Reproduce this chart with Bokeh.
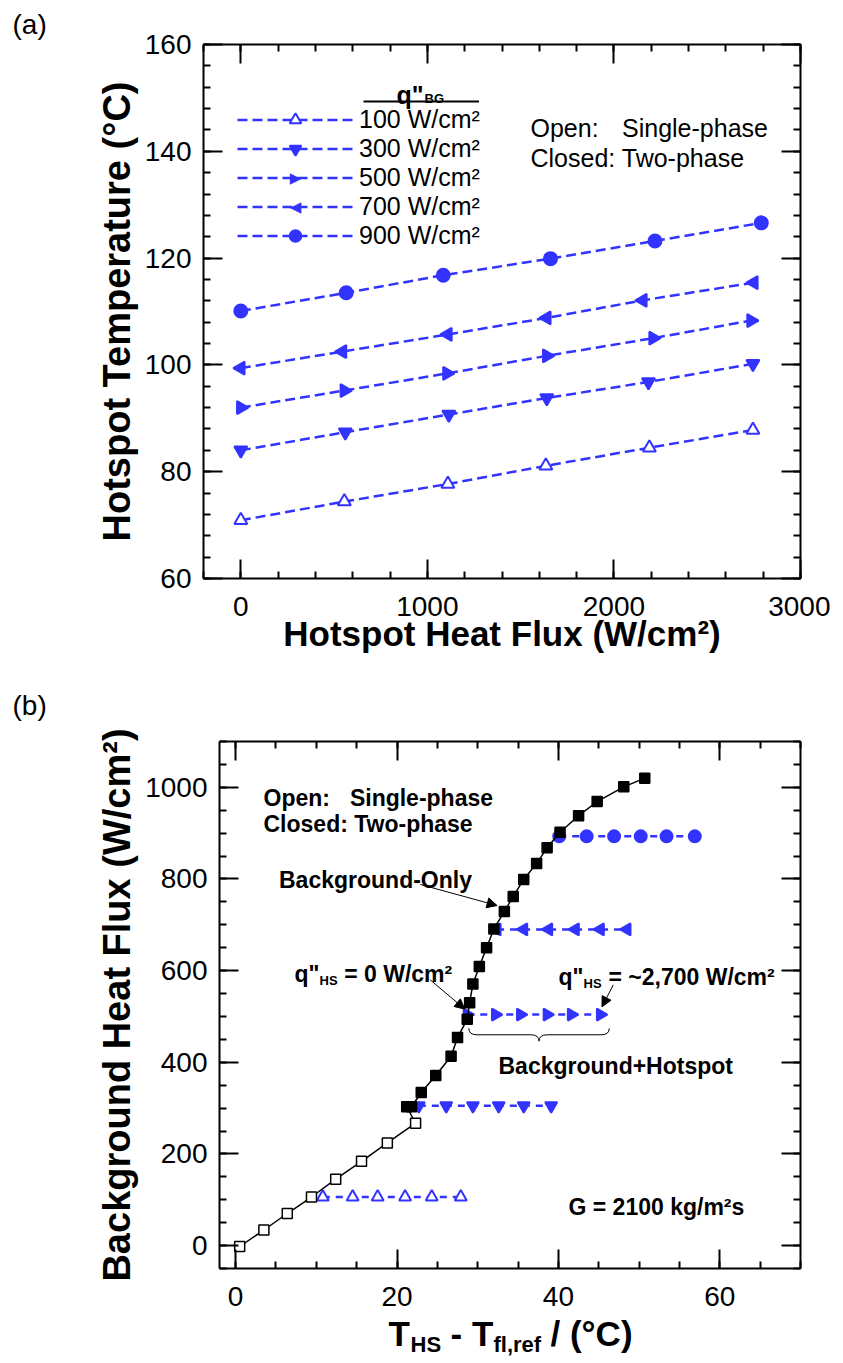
import numpy as np
from bokeh.plotting import figure
from bokeh.models import (Range1d, LinearAxis, FixedTicker, Label, Legend, LegendItem,
                          Arrow, NormalHead, BoxAnnotation, CustomJSTickFormatter)
from bokeh.layouts import column
from bokeh.embed import file_html
from bokeh.resources import INLINE

FONT = "Liberation Sans"
BLUE = "#3333ff"

# ---------------- data: panel (a) ----------------
qbg_labels = ["100 W/cm²", "300 W/cm²", "500 W/cm²", "700 W/cm²", "900 W/cm²"]
a_x_100 = [0, 555, 1110, 1635, 2190, 2745]
a_y_100 = [70.9, 74.4, 77.7, 81.1, 84.5, 87.8]
a_x_300 = [0, 560, 1115, 1640, 2185, 2745]
a_y_300 = [84.0, 87.4, 90.7, 93.8, 96.8, 100.2]
a_x_500 = [0, 555, 1105, 1640, 2210, 2735]
a_y_500 = [92.0, 95.2, 98.4, 101.7, 105.0, 108.3]
a_x_700 = [0, 545, 1110, 1640, 2155, 2750]
a_y_700 = [99.4, 102.5, 105.7, 108.8, 112.1, 115.4]
a_x_900 = [0, 565, 1085, 1660, 2220, 2790]
a_y_900 = [110.1, 113.5, 116.8, 119.9, 123.2, 126.6]

a_xticks = [0, 1000, 2000, 3000]
a_yticks = [60, 80, 100, 120, 140, 160]

# ---------------- data: panel (b) ----------------
bg_x_open = [0.5, 3.5, 6.4, 9.4, 12.4, 15.6, 18.8, 22.3]
bg_y_open = [-2, 34, 70, 106, 145, 184, 224, 267]
bg_x_closed = [21.2, 21.8, 23.0, 24.8, 26.7, 27.5, 28.7, 29.0, 29.4, 30.2, 31.1, 32.0,
               33.3, 34.4, 35.7, 37.3, 38.6, 40.2, 42.5, 44.8, 48.1, 50.7]
bg_y_closed = [303, 303, 334, 371, 413, 454, 494, 530, 571, 609, 650, 691,
               729, 762, 799, 834, 868, 902, 938, 969, 1001, 1020]

b_x_100 = [10.8, 14.5, 17.6, 21.0, 24.3, 27.9]
b_y_100 = [106, 106, 106, 106, 106, 106]
b_x_300 = [22.7, 26.1, 29.4, 32.6, 35.7, 39.1]
b_y_300 = [305, 305, 305, 305, 305, 305]
b_x_500 = [28.7, 32.2, 35.3, 38.6, 41.6, 45.2]
b_y_500 = [504, 504, 504, 504, 504, 504]
b_x_700 = [32.4, 35.7, 38.8, 42.1, 45.2, 48.5]
b_y_700 = [690, 690, 690, 690, 690, 690]
b_x_900 = [40.1, 43.5, 46.9, 50.2, 53.4, 56.9]
b_y_900 = [893, 893, 893, 893, 893, 893]

b_xticks = [0, 20, 40, 60]
b_yticks = [0, 200, 400, 600, 800, 1000]

# marker styles per series: (marker, angle, fill, legend-glyph override)
styles = [("triangle", 0.0, "white", None),
          ("inverted_triangle", 0.0, BLUE, None),
          ("triangle", -np.pi / 2, BLUE, "▶"),
          ("triangle", np.pi / 2, BLUE, "◀"),
          ("circle", 0.0, BLUE, None)]

# frame placement on the page (px)
FA_L, FA_T, FA_W, FA_H = 203, 44, 597, 534
FB_L, FB_T, FB_W, FB_H = 219, 741, 581, 527
RIGHT = 30
A_BOTTOM = 100
A_HEIGHT = FA_T + FA_H + A_BOTTOM          # 678
S_H = 44                                    # strip holding "(b)"
S_B = A_HEIGHT + S_H                        # 722
B_TOP_BORDER = FB_T - S_B                   # 19
B_BOTTOM = 50
OVERLAP = 14                                # title strip slides up under the tick labels
T_TOP = FB_T + FB_H + B_BOTTOM - OVERLAP    # 1304
T_H = 57
TOTAL_W = FA_L + FA_W + RIGHT


def style_axis(ax, ticks, minor, show=True, standoff=12):
    ax.ticker = FixedTicker(ticks=ticks, minor_ticks=minor)
    ax.axis_line_width = 2
    ax.axis_line_color = "black"
    ax.major_tick_in = 19
    ax.major_tick_out = 0
    ax.minor_tick_in = 7
    ax.minor_tick_out = 0
    ax.major_tick_line_width = 2
    ax.minor_tick_line_width = 2
    ax.major_tick_line_color = "black"
    ax.minor_tick_line_color = "black"
    ax.major_label_text_font = FONT
    ax.major_label_text_font_size = "28px"
    ax.major_label_text_color = "black"
    ax.major_label_standoff = standoff
    ax.axis_label_text_font = FONT
    ax.axis_label_text_font_style = "bold"
    ax.axis_label_text_color = "black"
    if not show:
        ax.formatter = CustomJSTickFormatter(code="return ''")
        ax.major_label_standoff = 0
        ax.major_label_text_font_size = "1px"


def make_fig(xr, yr, left, top, fw, fh, bottom, right=RIGHT):
    p = figure(frame_width=fw, frame_height=fh, x_range=Range1d(*xr), y_range=Range1d(*yr),
               output_backend="svg", toolbar_location=None, frame_align=False,
               min_border_left=left, min_border_top=top, min_border_right=right,
               min_border_bottom=bottom)
    p.xgrid.visible = False
    p.ygrid.visible = False
    p.outline_line_color = None
    p.background_fill_color = "white"
    p.border_fill_color = "white"
    return p


def strip(height, **kw):
    s = figure(frame_width=TOTAL_W, frame_height=height, x_range=Range1d(0, 1), y_range=Range1d(0, 1),
               output_backend="svg", toolbar_location=None, frame_align=False, min_border=0,
               title_location=None, **kw)
    s.axis.visible = False
    s.xgrid.visible = False
    s.ygrid.visible = False
    s.outline_line_color = None
    s.background_fill_alpha = 0
    s.border_fill_alpha = 0
    return s


def add_mirror(p, xt, xm, yt, ym):
    bottom_ax = p.below[0]
    left_ax = p.left[0]
    style_axis(bottom_ax, xt, xm, standoff=18)
    style_axis(left_ax, yt, ym, standoff=12)
    top = LinearAxis()
    style_axis(top, xt, xm, show=False)
    right = LinearAxis()
    style_axis(right, yt, ym, show=False)
    p.add_layout(top, "above")
    p.add_layout(right, "right")
    return bottom_ax, left_ax


def lab(p, fl, fb, px, py, text, size, bold=False, align="left", baseline="alphabetic",
        color="black", font=FONT):
    p.add_layout(Label(x=px - fl, y=fb - py, x_units="screen", y_units="screen", text=text,
                       text_font=font, text_font_size=size,
                       text_font_style="bold" if bold else "normal",
                       text_color=color, text_align=align, text_baseline=baseline))


# ======================= panel (a) =======================
pa = make_fig((-200, 3000), (60, 160), FA_L, FA_T, FA_W, FA_H, A_BOTTOM)
ax_b, ax_l = add_mirror(pa, a_xticks, list(range(-200, 3001, 200)), a_yticks, list(range(60, 161, 4)))
ax_b.axis_label = "Hotspot Heat Flux (W/cm²)"
ax_b.axis_label_text_font_size = "35px"
ax_b.axis_label_standoff = -5
ax_l.axis_label = "Hotspot Temperature (°C)"
ax_l.axis_label_text_font_size = "38px"
ax_l.axis_label_standoff = 4
pa.title.text = "(a)"
pa.title.align = "left"
pa.title.offset = 12 - FA_L
pa.title.text_font = FONT
pa.title.text_font_size = "28px"
pa.title.text_font_style = "normal"
pa.title.text_color = "black"
pa.title.standoff = 10

FA_B = FA_T + FA_H
a_series = [(a_x_100, a_y_100), (a_x_300, a_y_300), (a_x_500, a_y_500),
            (a_x_700, a_y_700), (a_x_900, a_y_900)]
items = []
for (xs, ys), (mk, ang, fill, glyph), lbl in zip(a_series, styles, qbg_labels):
    rl = pa.line(xs, ys, line_color=BLUE, line_width=2.5, line_dash="10 5")
    rs = pa.scatter(xs, ys, marker=mk, angle=ang, size=13, line_color=BLUE,
                    fill_color=fill, line_width=2)
    items.append(LegendItem(label=lbl, renderers=[rl] if glyph else [rl, rs]))

LEG_TOP = 104.5
leg = Legend(items=items, location=(237 - FA_L, FA_B - (LEG_TOP + 145)), glyph_width=116,
             glyph_height=29, label_height=29, label_standoff=6, spacing=0, padding=0, margin=0,
             label_text_font=FONT, label_text_font_size="25px", label_text_color="black",
             background_fill_alpha=0, border_line_color=None)
pa.add_layout(leg)
for i, st in enumerate(styles):
    if st[3]:
        lab(pa, FA_L, FA_B, 295, LEG_TOP + 14.5 + 29 * i, st[3], "15px", align="center",
            baseline="middle", color=BLUE, font="DejaVu Sans")

lab(pa, FA_L, FA_B, 396, 94, "q\"", "25px", bold=True)
lab(pa, FA_L, FA_B, 424, 97.5, "BG", "13px", bold=True)
pa.add_layout(BoxAnnotation(left=363 - FA_L, right=478.5 - FA_L, bottom=FA_B - 102, top=FA_B - 100,
                            left_units="screen", right_units="screen", bottom_units="screen",
                            top_units="screen", fill_color="black", fill_alpha=1, line_color=None))
lab(pa, FA_L, FA_B, 530, 127, "Open:", "25px")
lab(pa, FA_L, FA_B, 621.5, 127, "Single-phase", "25px")
lab(pa, FA_L, FA_B, 530, 157, "Closed: Two-phase", "25px")

# ============ strip holding the "(b)" panel tag ============
ps = strip(S_H)
lab(ps, 0, S_B, 12, 705, "(b)", "28px")

# ======================= panel (b) =======================
pb = make_fig((-2, 70), (-50, 1100), FB_L, B_TOP_BORDER, FB_W, FB_H, B_BOTTOM)
pb.title_location = None
bx_b, bx_l = add_mirror(pb, b_xticks, list(range(0, 71, 5)), b_yticks, list(range(-50, 1101, 50)))
bx_l.axis_label = "Background Heat Flux (W/cm²)"
bx_l.axis_label_text_font_size = "38px"
bx_l.axis_label_standoff = 4

b_series = [(b_x_100, b_y_100), (b_x_300, b_y_300), (b_x_500, b_y_500),
            (b_x_700, b_y_700), (b_x_900, b_y_900)]
for (xs, ys), (mk, ang, fill, _g) in zip(b_series, styles):
    pb.line(xs, ys, line_color=BLUE, line_width=2.5, line_dash="7 6")
    pb.scatter(xs, ys, marker=mk, angle=ang, size=12, line_color=BLUE, fill_color=fill, line_width=2)

pb.line(bg_x_open + bg_x_closed, bg_y_open + bg_y_closed, line_color="black", line_width=1.5)
pb.scatter(bg_x_open, bg_y_open, marker="square", size=10, line_color="black",
           fill_color="white", line_width=1.5)
pb.scatter(bg_x_closed, bg_y_closed, marker="square", size=10, line_color="black",
           fill_color="black", line_width=1.5)

FB_B = FB_T + FB_H
lab(pb, FB_L, FB_B, 263, 797, "Open:", "23px", bold=True)
lab(pb, FB_L, FB_B, 349.4, 797, "Single-phase", "23px", bold=True)
lab(pb, FB_L, FB_B, 263, 823, "Closed: Two-phase", "23px", bold=True)
lab(pb, FB_L, FB_B, 278.5, 879.5, "Background-Only", "23px", bold=True)
lab(pb, FB_L, FB_B, 294, 973.5, "q\"", "23px", bold=True)
lab(pb, FB_L, FB_B, 319, 979.5, "HS", "13px", bold=True)
lab(pb, FB_L, FB_B, 343.7, 973.5, "= 0 W/cm²", "23px", bold=True)
lab(pb, FB_L, FB_B, 558, 976.5, "q\"", "23px", bold=True)
lab(pb, FB_L, FB_B, 583, 983, "HS", "13px", bold=True)
lab(pb, FB_L, FB_B, 608, 976.5, "= ~2,700 W/cm²", "23px", bold=True)
lab(pb, FB_L, FB_B, 498, 1065, "Background+Hotspot", "23px", bold=True)
lab(pb, FB_L, FB_B, 568, 1206, "G = 2100 kg/m²s", "23px", bold=True)

# arrows
for (xs_, ys_, xe_, ye_) in [(22.9, 788, 32.4, 742), (24.1, 580, 28.4, 516), (46.8, 569, 45.4, 521)]:
    pb.add_layout(Arrow(end=NormalHead(size=10, fill_color="black", line_color="black", line_width=1),
                        x_start=xs_, y_start=ys_, x_end=xe_, y_end=ye_,
                        line_color="black", line_width=1))

# curly brace under the 500 W/cm2 row
bx0, bx1, bxc = 28.9, 46.3, 37.6
by_top, by_mid, by_tip = 474, 460, 446
dx = 1.0
pb.quadratic(x0=[bx0, bx1, bxc, bxc], y0=[by_top, by_top, by_tip, by_tip],
             x1=[bx0 + dx, bx1 - dx, bxc - dx, bxc + dx], y1=[by_mid, by_mid, by_mid, by_mid],
             cx=[bx0, bx1, bxc, bxc], cy=[by_mid, by_mid, by_mid, by_mid],
             line_color="black", line_width=1)
pb.segment(x0=[bx0 + dx, bxc + dx], y0=[by_mid, by_mid], x1=[bxc - dx, bx1 - dx], y1=[by_mid, by_mid],
           line_color="black", line_width=1)

# ============ x-axis title strip of panel (b) (subscripted text) ============
pt = strip(T_H, styles={"margin-top": f"-{OVERLAP}px"})
T_B = T_TOP + T_H
x0 = 388
base = 1333
lab(pt, 0, T_B, x0, base, "T", "35px", bold=True)
lab(pt, 0, T_B, x0 + 22, base + 11, "HS", "22px", bold=True)
lab(pt, 0, T_B, x0 + 22 + 31 + 9, base, "- T", "35px", bold=True)
lab(pt, 0, T_B, x0 + 62 + 43, base + 11, "fl,ref", "22px", bold=True)
lab(pt, 0, T_B, x0 + 105 + 48 + 9, base, "/ (°C)", "35px", bold=True)

layout = column(pa, ps, pb, pt, spacing=0)
open("out.html", "w").write(file_html(layout, INLINE))
